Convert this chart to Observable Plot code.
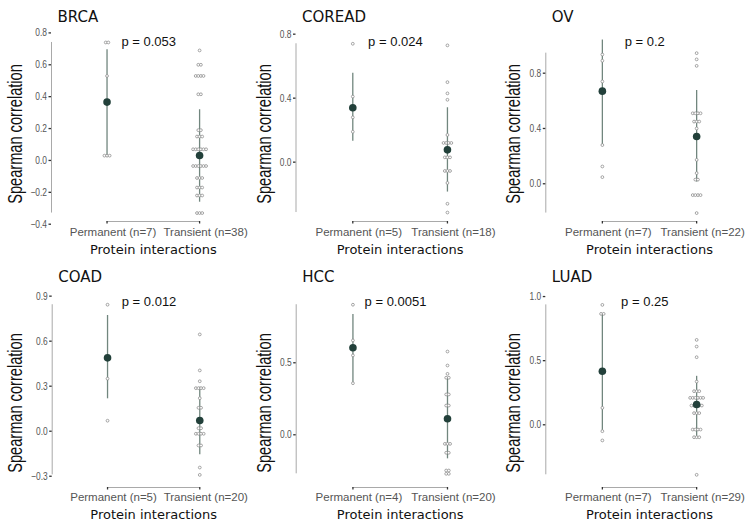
<!DOCTYPE html>
<html><head><meta charset="utf-8">
<script src="https://cdn.jsdelivr.net/npm/d3@7"></script>
<script src="https://cdn.jsdelivr.net/npm/@observablehq/plot@0.6"></script>
<style>
body{margin:0;background:#fff;}
#wrap{position:relative;width:748px;height:522px;background:#fff;overflow:hidden;}
#wrap svg{position:absolute;overflow:visible;}
</style></head><body><div id="wrap"></div>
<script>
// ---------- data ----------
const cancers = ["BRCA", "COREAD", "OV", "COAD", "HCC", "LUAD"];
const pValues = ["0.053", "0.024", "0.2", "0.012", "0.0051", "0.25"];
const nPermanent = [7, 5, 7, 5, 4, 7];
const nTransient = [38, 18, 22, 20, 20, 29];

const permBRCA = [0.74, 0.74, 0.53, 0.37, 0.03, 0.03, 0.03];
const tranBRCA = [0.69, 0.6, 0.6, 0.53, 0.53, 0.53, 0.53, 0.415, 0.415, 0.19, 0.19, 0.15, 0.15, 0.15,
  0.07, 0.07, 0.07, 0.07, 0.07, 0.07, -0.035, -0.035, -0.035, -0.035, -0.035, -0.035,
  -0.11, -0.11, -0.11, -0.17, -0.17, -0.17, -0.22, -0.22, -0.22, -0.33, -0.33, -0.33];
const permCOREAD = [0.74, 0.41, 0.34, 0.28, 0.19];
const tranCOREAD = [0.73, 0.5, 0.43, 0.39, 0.17, 0.12, 0.12, 0.12, 0.12, 0.03, 0.03, 0.03,
  -0.055, -0.055, -0.055, -0.13, -0.26, -0.315];
const permOV = [0.935, 0.89, 0.74, 0.67, 0.28, 0.125, 0.048];
const tranOV = [0.945, 0.9, 0.853, 0.51, 0.51, 0.51, 0.51, 0.45, 0.45, 0.45, 0.4, 0.34, 0.34,
  0.173, 0.077, 0.03, 0.03, -0.082, -0.082, -0.082, -0.082, -0.212];
const permCOAD = [0.843, 0.49, 0.49, 0.35, 0.07];
const tranCOAD = [0.645, 0.405, 0.333, 0.287, 0.287, 0.287, 0.287, 0.22, 0.156, 0.156, 0.02, 0.02,
  -0.017, -0.017, -0.017, -0.017, -0.095, -0.095, -0.242, -0.291];
const permHCC = [0.903, 0.655, 0.551, 0.358];
const tranHCC = [0.578, 0.481, 0.423, 0.396, 0.396, 0.28, 0.28, 0.203, 0.203, 0.111, 0.111,
  -0.063, -0.063, -0.063, -0.125, -0.125, -0.248, -0.248, -0.271, -0.271];
const permLUAD = [0.935, 0.865, 0.865, 0.418, 0.132, -0.05, -0.122];
const tranLUAD = [0.662, 0.61, 0.527, 0.337, 0.262, 0.262, 0.262, 0.21, 0.21, 0.21, 0.21, 0.21, 0.21,
  0.15, 0.15, 0.15, 0.15, 0.15, 0.091, 0.091, 0.091, -0.037, -0.037, -0.037, -0.037,
  -0.097, -0.097, -0.097, -0.39];

const permValues = [permBRCA, permCOREAD, permOV, permCOAD, permHCC, permLUAD];
const tranValues = [tranBRCA, tranCOREAD, tranOV, tranCOAD, tranHCC, tranLUAD];

const meanPermanent = [0.366, 0.34, 0.67, 0.489, 0.604, 0.418];
const ciLowPermanent = [0.03, 0.131, 0.282, 0.216, 0.354, -0.05];
const ciHighPermanent = [0.695, 0.556, 1.04, 0.771, 0.835, 0.865];
const meanTransient = [0.031, 0.077, 0.342, 0.071, 0.111, 0.158];
const ciLowTransient = [-0.262, -0.187, 0.012, -0.157, -0.167, -0.1];
const ciHighTransient = [0.318, 0.34, 0.675, 0.293, 0.396, 0.378];

const yTicks = [
  [-0.4, -0.2, 0, 0.2, 0.4, 0.6, 0.8],
  [0, 0.4, 0.8],
  [0, 0.4, 0.8],
  [-0.3, 0, 0.3, 0.6, 0.9],
  [0, 0.5],
  [0, 0.5, 1.0]
];
const yDomains = [
  [-0.383, 0.79], [-0.371, 0.798], [-0.273, 1.08],
  [-0.375, 0.911], [-0.366, 0.974], [-0.489, 1.016]
];

// ---------- layout ----------
const wrap = document.getElementById("wrap");
const W = 250;
const lefts = [0, 249, 498];
const tops = [0, 260];
const heights = [260, 262];
const mLefts = [51, 46.5, 47.3, 51.7, 46.7, 47.3];
const mTops = [34, 34];
const mBottoms = [39, 35];
const yTitleDy = [6, 12];
const xTickPad = [4, 3];
const xTitleDy = [28, 27];
const xDomain = [-0.6, 1.55];
const sans = '"Liberation Sans",Arial,sans-serif';

function stack(values) {
  const counts = d3.rollup(values, v => v.length, d => d);
  const seen = new Map();
  return values.map(v => {
    const k = seen.get(v) || 0;
    seen.set(v, k + 1);
    return {v, j: k - (counts.get(v) - 1) / 2};
  });
}

// narrow the glyphs of text elements (the reference uses a condensed face)
function condense(nodes, factor) {
  nodes.forEach(t => {
    const L = t.getComputedTextLength();
    t.setAttribute("textLength", (L * factor).toFixed(1));
    t.setAttribute("lengthAdjust", "spacingAndGlyphs");
  });
}

cancers.forEach((name, i) => {
  const row = Math.floor(i / 3), col = i % 3;
  const mL = mLefts[i], H = heights[row];
  const unitPx = (W - mL) / (xDomain[1] - xDomain[0]);
  const step = 2.6 / unitPx;
  const groupVals = [permValues[i], tranValues[i]];
  const pts = groupVals.flatMap((vals, g) => stack(vals).map(d => ({g, v: d.v, x: g + d.j * step})));
  const [ymin, ymax] = d3.extent(groupVals.flat());
  const summ = [
    {g: 0, m: meanPermanent[i], lo: ciLowPermanent[i], hi: ciHighPermanent[i]},
    {g: 1, m: meanTransient[i], lo: ciLowTransient[i], hi: ciHighTransient[i]}
  ];
  const labels = [`Permanent (n=${nPermanent[i]})`, `Transient (n=${nTransient[i]})`];

  const svg = Plot.plot({
    width: W, height: H,
    marginLeft: mL, marginRight: 0, marginTop: mTops[row], marginBottom: mBottoms[row],
    x: {type: "linear", domain: xDomain},
    y: {domain: yDomains[i]},
    style: {background: "transparent", overflow: "visible"},
    marks: [
      Plot.ruleX([{x: xDomain[0], y1: ymin, y2: ymax}], {x: "x", y1: "y1", y2: "y2", stroke: "#a9a9a9", strokeWidth: 1}),
      Plot.ruleY([{y: yDomains[i][0], x1: 0, x2: 1}], {y: "y", x1: "x1", x2: "x2", stroke: "#a9a9a9", strokeWidth: 1}),
      Plot.axisY(yTicks[i], {tickSize: 2.5, tickPadding: 2, tickFormat: d3.format(".1f"), label: null,
        fontSize: 10.5, fontFamily: sans, fill: "#555", stroke: "#333", strokeWidth: 1.3}),
      Plot.axisX([0, 1], {tickSize: 2.5, tickPadding: xTickPad[row], tickFormat: d => labels[d], label: null,
        fontSize: 11.5, fontFamily: sans, fill: "#555", stroke: "#333", strokeWidth: 1.3}),
      Plot.ruleX(summ, {x: "g", y1: "lo", y2: "hi", stroke: "#71867e", strokeWidth: 1.3}),
      Plot.dot(pts, {x: "x", y: "v", r: 1.4, stroke: "#888", strokeWidth: 0.75, fill: "white"}),
      Plot.dot(summ, {x: "g", y: "m", r: 3.8, fill: "#22403a", stroke: "none"}),
      Plot.text([`p = ${pValues[i]}`], {x: 0.45, frameAnchor: "top", dy: 7.5, lineAnchor: "middle",
        fontSize: 13, fontFamily: sans, fill: "#111"}),
      Plot.text([name], {frameAnchor: "top-left", textAnchor: "start", dx: 6, dy: -17, lineAnchor: "middle",
        fontSize: 15, fontFamily: '"DejaVu Sans",sans-serif', fill: "#111"}),
      Plot.text(["Spearman correlation"], {frameAnchor: "left", rotate: -90, dx: 15.5 - mL, dy: yTitleDy[row],
        lineAnchor: "middle", textAnchor: "middle", fontSize: 20, fontFamily: sans, fill: "#111"}),
      Plot.text(["Protein interactions"], {x: 0.5, frameAnchor: "bottom", dy: xTitleDy[row], lineAnchor: "middle",
        fontSize: 13, fontFamily: '"DejaVu Sans",sans-serif', fill: "#111"})
    ]
  });
  svg.style.left = lefts[col] + "px";
  svg.style.top = tops[row] + "px";
  wrap.appendChild(svg);
  // shift tick labels slightly right as in the reference
  svg.querySelectorAll('g[aria-label="x-axis tick label"] text').forEach(t => {
    const tr = t.getAttribute("transform") || "";
    t.setAttribute("transform", tr + " translate(6,0)");
  });
  condense(svg.querySelectorAll('g[aria-label="y-axis tick label"] text'), 0.8);
  condense([...svg.querySelectorAll("text")].filter(t => t.textContent === "Spearman correlation"), 0.73);
});
</script>
</body></html>
